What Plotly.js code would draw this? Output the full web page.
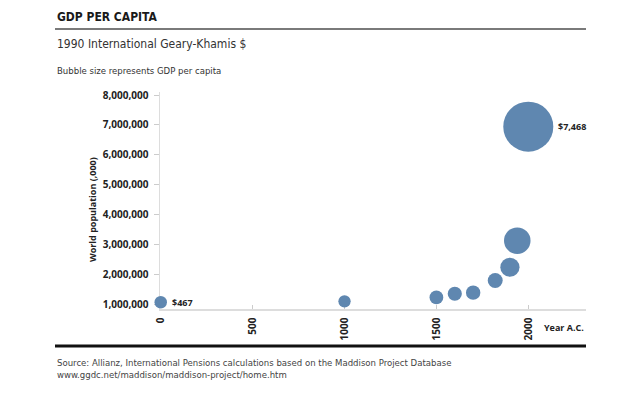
<!DOCTYPE html>
<html>
<head>
<meta charset="utf-8">
<script src="https://cdn.plot.ly/plotly-3.0.1.min.js"></script>
<style>html,body{margin:0;padding:0;background:#fff;} #chart{width:640px;height:393px;}</style>
</head>
<body>
<div id="chart"></div>
<script>
// Data
const years = [0, 1000, 1500, 1600, 1700, 1820, 1900, 1940, 2000];
const population = [1060000, 1090000, 1220000, 1345000, 1380000, 1790000, 2230000, 3120000, 6940000];
const gdpPerCapita = [467, 453, 566, 596, 615, 666, 1100, 2100, 7468];
const xTickVals = [0, 500, 1000, 1500, 2000];
const yTickVals = [1000000, 2000000, 3000000, 4000000, 5000000, 6000000, 7000000, 8000000];
const labelledIdx = [0, 8];

const W = 640, H = 393;
const L = 160, R = 54, T = 92, B = 84;
const pw = W - L - R, ph = H - T - B;
const px = v => (v - L) / pw;
const py = v => (H - B - v) / ph;

const sizeref = 5.97;
const radius = v => Math.sqrt(v / 2 / sizeref);
const fmt = v => '$' + v.toLocaleString('en-US');

const narrow = '"Liberation Sans Narrow", "DejaVu Sans Condensed", Arial, sans-serif';
const bold = '"Open Sans", "DejaVu Sans", sans-serif';

const trace = {
  type: 'scatter', mode: 'markers',
  x: years, y: population,
  cliponaxis: false,
  marker: {size: gdpPerCapita, sizemode: 'area', sizeref: sizeref, color: '#5f87b0', opacity: 1, line: {width: 0}},
  hoverinfo: 'none'
};

const annotations = [
  {text: '<b>GDP PER CAPITA</b>', x: px(55), y: py(17), xref: 'paper', yref: 'paper', xanchor: 'left', yanchor: 'middle', showarrow: false, font: {family: narrow, size: 12, color: '#1a1a1a'}},
  {text: '1990 International Geary-Khamis $', x: px(55), y: py(44), xref: 'paper', yref: 'paper', xanchor: 'left', yanchor: 'middle', showarrow: false, font: {family: narrow, size: 12, color: '#333'}},
  {text: 'Bubble size represents GDP per capita', x: px(55), y: py(70), xref: 'paper', yref: 'paper', xanchor: 'left', yanchor: 'middle', showarrow: false, font: {family: narrow, size: 9.5, color: '#333'}},
  {text: '<b>World population (,000)</b>', x: px(92), y: py(210), xref: 'paper', yref: 'paper', xanchor: 'center', yanchor: 'middle', textangle: -90, showarrow: false, font: {family: bold, size: 9, color: '#222'}},
  {text: '<b>Year A.C.</b>', x: px(586), y: py(327), xref: 'paper', yref: 'paper', xanchor: 'right', yanchor: 'middle', showarrow: false, font: {family: bold, size: 9, color: '#222'}},
  {text: 'Source: Allianz, International Pensions calculations based on the Maddison Project Database<br>www.ggdc.net/maddison/maddison-project/home.htm', x: px(55), y: py(368), xref: 'paper', yref: 'paper', xanchor: 'left', yanchor: 'middle', align: 'left', showarrow: false, font: {family: narrow, size: 9.5, color: '#444'}}
];
labelledIdx.forEach(i => {
  annotations.push({text: '<b>' + fmt(gdpPerCapita[i]) + '</b>', x: years[i], y: population[i], xref: 'x', yref: 'y', xanchor: 'left', yanchor: 'middle', xshift: radius(gdpPerCapita[i]) + 3, showarrow: false, font: {family: bold, size: 9, color: '#222'}});
});

const layout = {
  width: W, height: H,
  margin: {l: L, r: R, t: T, b: B, pad: 0},
  paper_bgcolor: '#fff', plot_bgcolor: '#fff',
  showlegend: false,
  xaxis: {range: [-4, 2314], layer: 'below traces', tickvals: xTickVals, ticktext: xTickVals.map(v => '<b>' + v + '</b>'), tickangle: -90, ticks: 'inside', ticklen: 4, tickcolor: '#ccc', ticklabelstandoff: 3, showgrid: false, zeroline: false, showline: true, linecolor: '#ddd', linewidth: 1.5, tickfont: {family: bold, size: 10, color: '#222'}},
  yaxis: {range: [832500, 8100500], layer: 'below traces', tickvals: yTickVals, ticktext: yTickVals.map(v => '<b>' + v.toLocaleString('en-US') + '</b>'), ticks: 'outside', ticklen: 5, tickcolor: '#ccc', ticklabelstandoff: 3, showgrid: false, zeroline: false, showline: true, linecolor: '#ddd', linewidth: 1.5, tickfont: {family: bold, size: 10, color: '#222'}},
  shapes: [
    {type: 'line', xref: 'paper', yref: 'paper', x0: px(55), x1: px(586), y0: py(29), y1: py(29), line: {color: '#7a7a7a', width: 2}},
    {type: 'line', xref: 'paper', yref: 'paper', x0: px(55), x1: px(586), y0: py(346), y1: py(346), line: {color: '#111', width: 3}}
  ],
  annotations: annotations
};
Plotly.newPlot('chart', [trace], layout, {displayModeBar: false, staticPlot: true});
</script>
</body>
</html>
